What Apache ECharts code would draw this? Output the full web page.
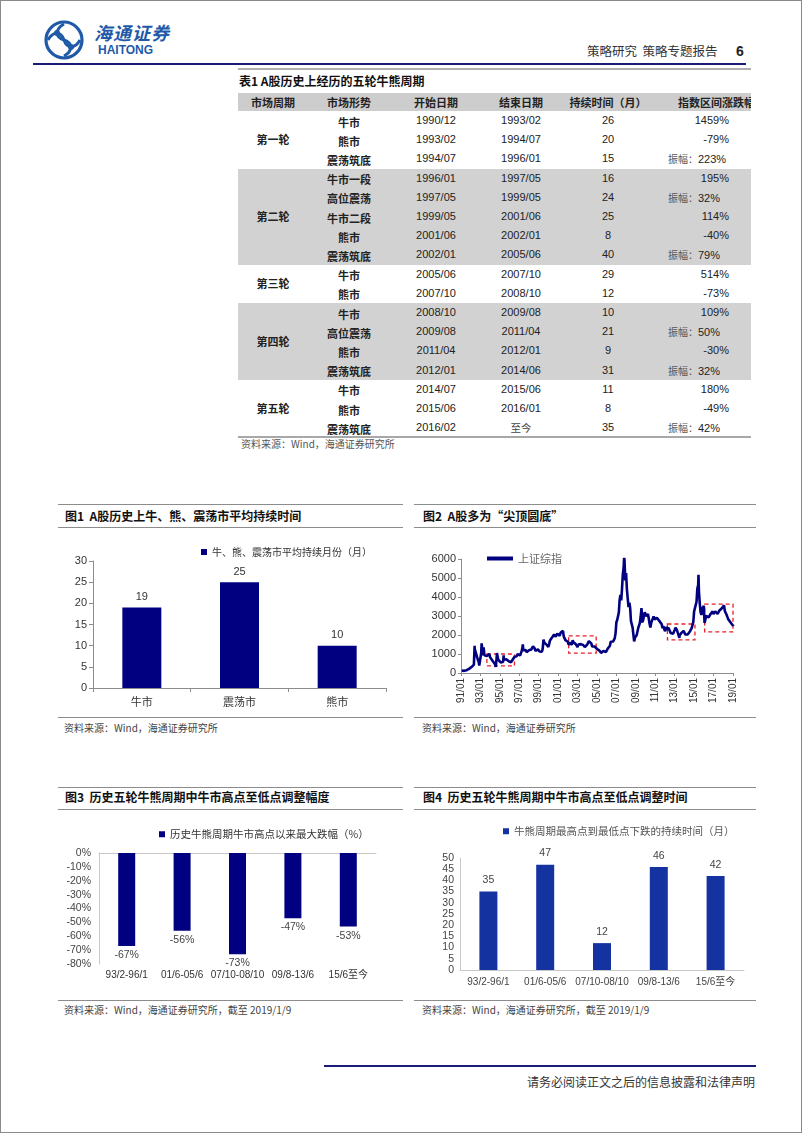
<!DOCTYPE html>
<html><head><meta charset="utf-8">
<script src="https://cdn.jsdelivr.net/npm/echarts/dist/echarts.min.js"></script>
<style>
html,body{margin:0;padding:0;background:#fff;}
#page{position:relative;width:802px;height:1133px;box-sizing:border-box;border:1px solid #8a8a8a;overflow:hidden;font-family:"Liberation Sans","Noto Sans CJK SC",sans-serif;color:#222;}
.t{position:absolute;white-space:nowrap;line-height:1;}
.cjk{font-family:"Noto Sans CJK SC",sans-serif;}
.hl{position:absolute;height:0;}
.chart{position:absolute;width:345px;height:185px;}
.cell{position:absolute;white-space:nowrap;font-size:11px;line-height:19px;height:19px;}
</style>
</head><body>
<div id="page">
  <!-- header -->
  <svg style="position:absolute;left:42px;top:18px" width="42" height="42" viewBox="0 0 42 42">
    <circle cx="21" cy="21" r="18" fill="none" stroke="#1f5aa8" stroke-width="3.2"/>
    <path d="M21 5 C12 10 12 18 21 21 C30 24 30 32 21 37" fill="none" stroke="#1f5aa8" stroke-width="3"/>
    <path d="M5 21 C10 12 18 12 21 21 C24 30 32 30 37 21" fill="none" stroke="#1f5aa8" stroke-width="3"/>
    <circle cx="14" cy="14" r="3" fill="#1f5aa8"/><circle cx="28" cy="28" r="3" fill="#1f5aa8"/>
  </svg>
  <div class="t cjk" style="left:93px;top:22px;font-size:18px;font-weight:bold;font-style:italic;color:#1f5aa8;letter-spacing:1px">海通证券</div>
  <div class="t" style="left:97px;top:43px;font-size:12px;font-weight:bold;color:#1f5aa8">HAITONG</div>
  <div class="t cjk" style="left:586px;top:44px;font-size:12.5px;color:#333">策略研究&nbsp;&nbsp;策略专题报告</div>
  <div class="t" style="left:735px;top:43px;font-size:14px;font-weight:bold;color:#222">6</div>
  <div class="hl" style="left:32px;top:62px;width:713px;border-top:2.5px solid #1a1a78"></div>
  <div class="hl" style="left:237px;top:67px;width:513px;border-top:2px solid #b0b0b0"></div>

  <!-- table -->
  <div class="t cjk" style="left:238px;top:74px;font-size:12px;font-weight:bold;color:#111">表1&nbsp;A股历史上经历的五轮牛熊周期</div>
  <div id="tbl" style="position:absolute;left:237px;top:92px;width:513px;height:346px;overflow:hidden"></div>
  <div class="t cjk" style="left:240px;top:438px;font-size:10px;color:#555">资料来源：Wind，海通证券研究所</div>

  <!-- figure frames -->
  <div class="hl" style="left:57px;top:503px;width:345px;border-top:1.5px solid #8c8c8c"></div>
  <div class="hl" style="left:57px;top:526px;width:345px;border-top:1.5px solid #8c8c8c"></div>
  <div class="hl" style="left:57px;top:716px;width:345px;border-top:1.5px solid #8c8c8c"></div>
  <div class="hl" style="left:413px;top:503px;width:342px;border-top:1.5px solid #8c8c8c"></div>
  <div class="hl" style="left:413px;top:526px;width:342px;border-top:1.5px solid #8c8c8c"></div>
  <div class="hl" style="left:413px;top:716px;width:342px;border-top:1.5px solid #8c8c8c"></div>
  <div class="hl" style="left:57px;top:786px;width:345px;border-top:1.5px solid #8c8c8c"></div>
  <div class="hl" style="left:57px;top:808px;width:345px;border-top:1.5px solid #8c8c8c"></div>
  <div class="hl" style="left:57px;top:999px;width:345px;border-top:1.5px solid #8c8c8c"></div>
  <div class="hl" style="left:413px;top:786px;width:342px;border-top:1.5px solid #8c8c8c"></div>
  <div class="hl" style="left:413px;top:808px;width:342px;border-top:1.5px solid #8c8c8c"></div>
  <div class="hl" style="left:413px;top:999px;width:342px;border-top:1.5px solid #8c8c8c"></div>

  <div class="t cjk" style="left:64px;top:509px;font-size:12px;font-weight:bold;color:#111">图1&nbsp;&nbsp;A股历史上牛、熊、震荡市平均持续时间</div>
  <div class="t cjk" style="left:422px;top:509px;font-size:12px;font-weight:bold;color:#111">图2&nbsp;&nbsp;A股多为“尖顶圆底”</div>
  <div class="t cjk" style="left:64px;top:790px;font-size:12px;font-weight:bold;color:#111">图3&nbsp;&nbsp;历史五轮牛熊周期中牛市高点至低点调整幅度</div>
  <div class="t cjk" style="left:422px;top:790px;font-size:12px;font-weight:bold;color:#111">图4&nbsp;&nbsp;历史五轮牛熊周期中牛市高点至低点调整时间</div>

  <div id="c1" class="chart" style="left:57px;top:530px"></div>
  <div id="c2" class="chart" style="left:413px;top:530px"></div>
  <div id="c3" class="chart" style="left:57px;top:812px"></div>
  <div id="c4" class="chart" style="left:413px;top:812px"></div>

  <div class="t cjk" style="left:63px;top:722px;font-size:10px;color:#444">资料来源：Wind，海通证券研究所</div>
  <div class="t cjk" style="left:421px;top:722px;font-size:10px;color:#444">资料来源：Wind，海通证券研究所</div>
  <div class="t cjk" style="left:63px;top:1004px;font-size:10px;color:#444">资料来源：Wind，海通证券研究所，截至 2019/1/9</div>
  <div class="t cjk" style="left:421px;top:1004px;font-size:10px;color:#444">资料来源：Wind，海通证券研究所，截至 2019/1/9</div>

  <!-- footer -->
  <div class="hl" style="left:323px;top:1064px;width:432px;border-top:2.5px solid #1a1a78"></div>
  <div class="t cjk" style="left:526px;top:1075px;font-size:12px;color:#333">请务必阅读正文之后的信息披露和法律声明</div>
</div>

<script>
// ---------------- Table 1 data ----------------
const tableHeaders = ['市场周期','市场形势','开始日期','结束日期','持续时间（月）','指数区间涨跌幅'];
const cycleNames = ['第一轮','第二轮','第三轮','第四轮','第五轮'];
const cycleRowCounts = [3,5,2,4,3];
const phaseNames = ['牛市','熊市','震荡筑底','牛市一段','高位震荡','牛市二段','熊市','震荡筑底','牛市','熊市','牛市','高位震荡','熊市','震荡筑底','牛市','熊市','震荡筑底'];
const startDates = ['1990/12','1993/02','1994/07','1996/01','1997/05','1999/05','2001/06','2002/01','2005/06','2007/10','2008/10','2009/08','2011/04','2012/01','2014/07','2015/06','2016/02'];
const endDates = ['1993/02','1994/07','1996/01','1997/05','1999/05','2001/06','2002/01','2005/06','2007/10','2008/10','2009/08','2011/04','2012/01','2014/06','2015/06','2016/01','至今'];
const durations = [26,20,15,16,24,25,8,40,29,12,10,21,9,31,11,8,35];
const changes = ['1459%','-79%','振幅：223%','195%','振幅：32%','114%','-40%','振幅：79%','514%','-73%','109%','振幅：50%','-30%','振幅：32%','180%','-49%','振幅：42%'];

// ---------------- Figure 1 data ----------------
const fig1Name = '牛、熊、震荡市平均持续月份（月）';
const fig1Cats = ['牛市','震荡市','熊市'];
const fig1Values = [19,25,10];

// ---------------- Figure 2 data (上证综指, month-end closes + notable extremes) ----------------
const fig2Name = '上证综指';
const szMonthly = [
  [1991,[130,134,120,113,115,138,146,180,180,218,259,293]],
  [1992,[313,341,370,445,1266,1128,1100,820,720,560,420,780]],
  [1993,[1050,1500,925,1350,930,1000,860,900,880,860,1000,833]],
  [1994,[770,790,650,550,560,470,333,750,1033,700,680,647]],
  [1995,[560,550,640,575,700,630,700,720,690,720,620,555]],
  [1996,[537,570,560,710,640,840,860,830,890,1000,1050,917]],
  [1997,[920,960,1150,1370,1200,1200,1190,1210,1100,1180,1190,1194]],
  [1998,[1220,1200,1240,1340,1410,1340,1300,1160,1240,1220,1250,1147]],
  [1999,[1130,1090,1160,1120,1280,1690,1600,1620,1540,1480,1410,1367]],
  [2000,[1535,1715,1800,1836,1894,1929,2023,2100,1910,1961,2070,2073]],
  [2001,[2065,1960,2112,2120,2214,2218,1920,1834,1732,1690,1760,1646]],
  [2002,[1490,1525,1600,1620,1480,1730,1620,1640,1580,1510,1430,1357]],
  [2003,[1500,1510,1510,1520,1576,1487,1476,1421,1367,1348,1397,1497]],
  [2004,[1590,1675,1741,1595,1555,1400,1386,1342,1396,1320,1340,1266]],
  [2005,[1191,1306,1181,1159,1060,1080,1083,1162,1155,1092,1099,1161]],
  [2006,[1258,1299,1298,1440,1641,1672,1612,1658,1752,1837,2099,2675]],
  [2007,[2786,2881,3183,3841,4109,3820,4471,5218,5552,5954,4871,5262]],
  [2008,[4383,4348,3472,3693,3433,2736,2775,2397,2293,1729,1871,1821]],
  [2009,[1991,2082,2373,2477,2632,2959,3412,2667,2779,2996,3195,3277]],
  [2010,[2989,3051,3109,2870,2592,2398,2637,2638,2656,2978,2820,2808]],
  [2011,[2790,2905,2928,2911,2743,2762,2701,2567,2359,2468,2333,2199]],
  [2012,[2292,2428,2262,2396,2372,2225,2103,2047,2086,2068,1980,2269]],
  [2013,[2385,2365,2236,2177,2300,1979,1993,2098,2174,2141,2220,2116]],
  [2014,[2033,2056,2033,2026,2039,2048,2201,2217,2364,2420,2683,3235]],
  [2015,[3210,3310,3748,4441,4612,4277,3664,3206,3053,3383,3445,3539]],
  [2016,[2738,2688,3004,2938,2917,2930,2979,3085,3005,3100,3250,3104]],
  [2017,[3159,3242,3223,3155,3117,3192,3273,3361,3349,3393,3317,3307]],
  [2018,[3481,3259,3169,3082,3095,2847,2876,2725,2821,2603,2588,2494]]
];
const szExtremes = [
  ['1992/05/26',1429],['1992/11/17',386],['1993/02/16',1558],['1994/07/29',325],
  ['1994/09/13',1052],['1995/05/22',926],['1997/05/12',1510],['1999/06/29',1756],
  ['2001/06/14',2245],['2005/06/06',998],['2007/10/16',6092],['2008/10/28',1664],
  ['2009/08/04',3478],['2010/07/02',2319],['2013/06/25',1849],['2015/06/12',5166],
  ['2016/01/27',2638],['2018/01/29',3559],['2019/01/04',2464],['2019/01/09',2544]
];
const fig2Boxes = [
  [['1993/09',1000],['1996/07',370]],
  [['2002/02',1950],['2004/12',1050]],
  [['2012/04',2580],['2015/02',1740]],
  [['2016/02',3630],['2019/06',2160]]
];
const fig2XLabels = ['91/01','93/01','95/01','97/01','99/01','01/01','03/01','05/01','07/01','09/01','11/01','13/01','15/01','17/01','19/01'];

// ---------------- Figure 3 data ----------------
const fig3Name = '历史牛熊周期牛市高点以来最大跌幅（%）';
const fig34Cats = ['93/2-96/1','01/6-05/6','07/10-08/10','09/8-13/6','15/6至今'];
const fig3Values = [-67,-56,-73,-47,-53];

// ---------------- Figure 4 data ----------------
const fig4Name = '牛熊周期最高点到最低点下跌的持续时间（月）';
const fig4Values = [35,47,12,46,42];

// ================= build table =================
(function(){
  const tbl = document.getElementById('tbl');
  const headH = 18, rowH = 19.2;
  const colCenters = [35, 111, 198, 283, 370];   // relative to table left (237)
  const lastRight = 491, lastLeftAmp = 430, lastHeadLeft = 440;
  function add(html, style){ const d=document.createElement('div'); d.className='cell'; d.innerHTML=html; d.style.cssText+=style; tbl.appendChild(d); return d; }
  add('', `left:0;top:0;width:513px;height:${headH}px;background:#cdcdcd;`);
  tableHeaders.forEach((h,i)=>{
    if(i<5) add(h, `left:${colCenters[i]-60}px;width:120px;text-align:center;top:0;line-height:${headH}px;font-weight:bold;font-family:'Noto Sans CJK SC';color:#222;`);
    else add(h, `left:${lastHeadLeft}px;top:0;line-height:${headH}px;font-weight:bold;font-family:'Noto Sans CJK SC';color:#222;`);
  });
  let r = 0;
  cycleNames.forEach((cn,gi)=>{
    const n = cycleRowCounts[gi];
    const top = headH + r*rowH;
    if(gi%2===1) add('', `left:0;top:${top}px;width:513px;height:${n*rowH}px;background:#d2d2d2;`);
    add(cn, `left:${colCenters[0]-40}px;width:80px;text-align:center;top:${top + n*rowH/2 - 9.5}px;font-weight:bold;font-family:'Noto Sans CJK SC';color:#222;`);
    r += n;
  });
  for(let i=0;i<phaseNames.length;i++){
    const top = headH + i*rowH;
    add(phaseNames[i], `left:${colCenters[1]-50}px;width:100px;text-align:center;top:${top+1.5}px;font-weight:bold;font-family:'Noto Sans CJK SC';color:#222;`);
    add(startDates[i], `left:${colCenters[2]-50}px;width:100px;text-align:center;top:${top}px;`);
    add(endDates[i], `left:${colCenters[3]-50}px;width:100px;text-align:center;top:${top}px;` + (endDates[i]==='至今'?"font-family:'Noto Sans CJK SC';font-size:10.5px;color:#444;":''));
    add(String(durations[i]), `left:${colCenters[4]-50}px;width:100px;text-align:center;top:${top}px;`);
    const c = changes[i];
    if(c.indexOf('振幅')===0){
      add(`<span style="font-family:'Noto Sans CJK SC';font-size:10px;color:#555">振幅：</span>${c.slice(3)}`, `left:${lastLeftAmp}px;top:${top}px;`);
    } else {
      add(c, `left:${lastRight-100}px;width:100px;text-align:right;top:${top}px;`);
    }
  }
  add('', `left:0;top:${headH+17*rowH-1}px;width:513px;height:0;border-top:2px solid #a8a8a8;`);
})();

// ================= charts =================
const FONT = "'Liberation Sans','Noto Sans CJK SC',sans-serif";
const axisGray = '#8c8c8c';

// Figure 1
echarts.init(document.getElementById('c1')).setOption({
  animation:false,
  textStyle:{fontFamily:FONT},
  legend:{left:138, top:11, icon:'rect', itemWidth:6, itemHeight:6, itemGap:4,
    textStyle:{fontSize:10, color:'#333', fontFamily:"'Noto Sans CJK SC'"}, data:[fig1Name]},
  grid:{left:35, top:30, width:293, height:127},
  xAxis:{type:'category', data:fig1Cats,
    axisLine:{lineStyle:{color:axisGray}}, axisTick:{show:true, length:4, lineStyle:{color:axisGray}},
    axisLabel:{fontSize:11, color:'#333', margin:8, fontFamily:"'Noto Sans CJK SC'"}},
  yAxis:{type:'value', min:0, max:30, interval:5,
    axisLine:{show:true, lineStyle:{color:axisGray}}, axisTick:{show:true, length:4, lineStyle:{color:axisGray}},
    splitLine:{show:false}, axisLabel:{fontSize:11, color:'#333', margin:6}},
  series:[{type:'bar', name:fig1Name, data:fig1Values, barWidth:39, itemStyle:{color:'#000080'},
    label:{show:true, position:'top', fontSize:11, color:'#333', distance:5}}]
});

// Figure 2
function toYear(s){ const p=s.split('/').map(Number); return p[0] + ((p[1]||1)-1)/12 + ((p[2]||1)-1)/365; }
const szPoints = [];
szMonthly.forEach(([y,vals])=>{ vals.forEach((v,m)=>{ szPoints.push([y + (m+0.95)/12, v]); }); });
szExtremes.forEach(([d,v])=>szPoints.push([toYear(d), v]));
szPoints.sort((a,b)=>a[0]-b[0]);
echarts.init(document.getElementById('c2')).setOption({
  animation:false,
  textStyle:{fontFamily:FONT},
  legend:{left:68, top:17, itemWidth:26, itemHeight:4, itemGap:4, icon:'rect',
    textStyle:{fontSize:11, color:'#666', fontFamily:"'Noto Sans CJK SC'"}, data:[fig2Name]},
  grid:{left:47, top:28, width:272, height:114},
  xAxis:{type:'value', min:1991, max:2019, interval:2,
    axisLine:{show:true, onZero:false, lineStyle:{color:axisGray}},
    axisTick:{show:true, length:3, lineStyle:{color:axisGray}},
    splitLine:{show:false},
    axisLabel:{rotate:90, fontSize:10, color:'#333', margin:5,
      formatter:(v)=>fig2XLabels[Math.round((v-1991)/2)] || ''}},
  yAxis:{type:'value', min:0, max:6000, interval:1000,
    axisLine:{show:true, lineStyle:{color:axisGray}}, axisTick:{show:true, length:3, lineStyle:{color:axisGray}},
    splitLine:{show:false}, axisLabel:{fontSize:11, color:'#333', margin:5, formatter:(v)=>String(v)}},
  series:[{type:'line', name:fig2Name, data:szPoints, showSymbol:false, symbol:'none',
    lineStyle:{color:'#000080', width:2.6}, itemStyle:{color:'#000080'},
    markArea:{silent:true,
      itemStyle:{color:'rgba(0,0,0,0)', borderColor:'#e8202a', borderType:[4,3], borderWidth:1.3},
      data: fig2Boxes.map(([a,b])=>[{coord:[toYear(a[0]), a[1]]},{coord:[toYear(b[0]), b[1]]}])}
  }]
});

// Figure 3
echarts.init(document.getElementById('c3')).setOption({
  animation:false,
  textStyle:{fontFamily:FONT},
  legend:{left:96, top:11, icon:'rect', itemWidth:6, itemHeight:6, itemGap:4,
    textStyle:{fontSize:10.5, color:'#333', fontFamily:"'Noto Sans CJK SC'"}, data:[fig3Name]},
  grid:{left:41, top:40, width:277, height:111},
  xAxis:[
    {type:'category', data:fig34Cats, position:'bottom',
      axisLine:{show:false}, axisTick:{show:false},
      axisLabel:{fontSize:10, color:'#333', margin:6, interval:0, hideOverlap:false}},
    {type:'category', data:fig34Cats, position:'top',
      axisLine:{show:true, onZero:false, lineStyle:{color:'#c8c8c8'}}, axisTick:{show:false}, axisLabel:{show:false}}
  ],
  yAxis:{type:'value', min:-80, max:0, interval:10,
    axisLine:{show:true, lineStyle:{color:'#c8c8c8'}}, axisTick:{show:false},
    splitLine:{show:false}, axisLabel:{fontSize:10.5, color:'#444', margin:8, formatter:'{value}%'}},
  series:[{type:'bar', name:fig3Name, xAxisIndex:0, data:fig3Values, barWidth:17, itemStyle:{color:'#000080'},
    label:{show:true, position:'bottom', fontSize:10.5, color:'#444', distance:4, formatter:'{c}%'}}]
});

// Figure 4
echarts.init(document.getElementById('c4')).setOption({
  animation:false,
  textStyle:{fontFamily:FONT},
  legend:{left:84, top:8, icon:'rect', itemWidth:6, itemHeight:6, itemGap:4,
    textStyle:{fontSize:10.5, color:'#555', fontFamily:"'Noto Sans CJK SC'"}, data:[fig4Name]},
  grid:{left:46, top:45, width:284, height:112},
  xAxis:{type:'category', data:fig34Cats,
    axisLine:{show:true, lineStyle:{color:'#c8c8c8'}}, axisTick:{show:false},
    axisLabel:{fontSize:10, color:'#444', margin:7, interval:0, hideOverlap:false}},
  yAxis:{type:'value', min:0, max:50, interval:5,
    axisLine:{show:true, lineStyle:{color:'#c8c8c8'}}, axisTick:{show:false},
    splitLine:{show:false}, axisLabel:{fontSize:10.5, color:'#444', margin:6}},
  series:[{type:'bar', name:fig4Name, data:fig4Values, barWidth:18, itemStyle:{color:'#1433a0'},
    label:{show:true, position:'top', fontSize:10.5, color:'#444', distance:6}}]
});
</script>
</body></html>
